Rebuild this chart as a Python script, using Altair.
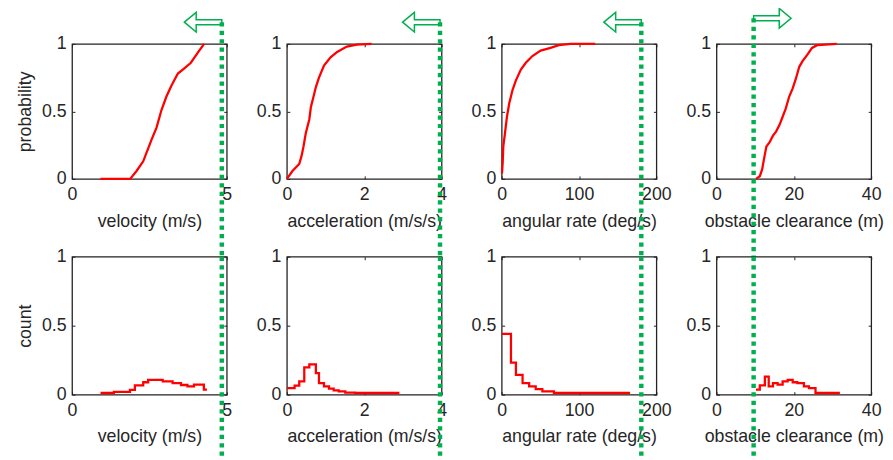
import altair as alt
import pandas as pd

# ---------------- data ----------------
# top row: cumulative probability curves
vel_cdf_x = [0.92, 1.88, 2.09, 2.30, 2.57, 2.73, 2.89, 3.05, 3.21, 3.42, 3.58, 3.84, 4.11, 4.27]
vel_cdf_p = [0, 0, 0.06, 0.13, 0.29, 0.38, 0.51, 0.61, 0.69, 0.78, 0.81, 0.86, 0.95, 1.0]

acc_cdf_x = [0, 0.15, 0.32, 0.38, 0.43, 0.49, 0.58, 0.62, 0.69, 0.75, 0.83, 0.96, 1.13, 1.30, 1.55, 1.81, 2.19]
acc_cdf_p = [0, 0.06, 0.11, 0.17, 0.24, 0.34, 0.44, 0.53, 0.61, 0.68, 0.75, 0.84, 0.90, 0.94, 0.98, 0.995, 1.0]

ang_cdf_x = [0.4, 1.3, 2.1, 4.3, 6.8, 9.8, 14.1, 18.4, 24.8, 31.2, 39.7, 50.4, 63.2, 73.9, 88.9, 120.9]
ang_cdf_p = [0.04, 0.12, 0.24, 0.34, 0.46, 0.56, 0.66, 0.73, 0.81, 0.86, 0.91, 0.95, 0.97, 0.99, 1.0, 1.0]

obs_cdf_x = [10.2, 11.2, 11.8, 12.3, 12.9, 13.7, 14.6, 15.4, 16.3, 17.1, 17.9, 18.8, 19.7, 20.5, 21.4, 22.2, 23.5, 24.7, 26.0, 31.1]
obs_cdf_p = [0, 0.02, 0.07, 0.15, 0.24, 0.27, 0.32, 0.35, 0.40, 0.46, 0.52, 0.61, 0.67, 0.74, 0.83, 0.87, 0.92, 0.97, 0.99, 1.0]

# bottom row: histograms (bin left edges + final right edge, heights)
vel_edges = [0.92, 1.35, 1.87, 2.03, 2.30, 2.46, 2.93, 3.25, 3.52, 3.73, 3.94, 4.26, 4.36]
vel_counts = [0.012, 0.02, 0.035, 0.067, 0.09, 0.108, 0.096, 0.084, 0.07, 0.06, 0.072, 0.036]

acc_edges = [0, 0.2, 0.32, 0.45, 0.58, 0.75, 0.83, 0.96, 1.09, 1.21, 1.34, 1.51, 1.77, 2.91]
acc_counts = [0.048, 0.065, 0.096, 0.197, 0.22, 0.156, 0.084, 0.06, 0.043, 0.031, 0.024, 0.014, 0.012]

ang_edges = [0, 12, 18.4, 27, 35.5, 44, 52.6, 67.5, 166]
ang_counts = [0.44, 0.233, 0.144, 0.084, 0.06, 0.04, 0.024, 0.012]

obs_edges = [10.2, 11.2, 12.5, 13.5, 14.6, 15.8, 17.1, 18.4, 19.7, 20.9, 22.6, 23.9, 25.6, 31.9]
obs_counts = [0.036, 0.067, 0.13, 0.06, 0.084, 0.072, 0.096, 0.108, 0.09, 0.084, 0.06, 0.048, 0.012]

# axis settings / labels
x_max = [5, 4, 200, 40]
x_ticks = [[0, 5], [0, 2, 4], [0, 100, 200], [0, 20, 40]]
x_titles = ["velocity (m/s)", "acceleration (m/s/s)", "angular rate (deg/s)", "obstacle clearance (m)"]
y_ticks = [0, 0.5, 1]
row_titles = ["probability", "count"]
thresholds = [4.84, 3.96, 180.5, 9.6]
arrow_dirs = ["left", "left", "left", "right"]

# ---------------- styling ----------------
W = 157
H_TOP = 137
H_BOT = 140
FONT = "Liberation Sans"
TXT = "#262626"
RED = "#ff0000"
GREEN = "#00b050"

LEFT_ARROW = "M-3.8,0 L-2.6,-1 L-2.6,-0.25 L0,-0.25 L0,0.25 L-2.6,0.25 L-2.6,1 Z"
RIGHT_ARROW = "M3.8,0 L2.6,-1 L2.6,-0.25 L0,-0.25 L0,0.25 L2.6,0.25 L2.6,1 Z"


def label_axes(ticks, title, ytitle):
    xa = alt.Axis(values=ticks, format="~r", orient="bottom", offset=-3, tickSize=3,
                  tickColor="#222", domain=False, grid=False, labelPadding=7,
                  labelFlush=False, labelOverlap=False, labelBound=False,
                  labelFont=FONT, labelFontSize=18, labelColor=TXT,
                  title=title, titleFont=FONT, titleFontSize=18, titleFontWeight="normal",
                  titleColor=TXT, titlePadding=9)
    common = dict(values=y_ticks, format="~r", orient="left", offset=-3, tickSize=3,
                  tickColor="#222", domain=False, grid=False, labelPadding=6,
                  labelFlush=False, labelOverlap=False,
                  labelFont=FONT, labelFontSize=18, labelColor=TXT)
    if ytitle:
        ya = alt.Axis(title=ytitle, titleFont=FONT, titleFontSize=18, titleFontWeight="normal",
                      titleColor=TXT, titlePadding=7, **common)
    else:
        ya = alt.Axis(title=None, **common)
    return xa, ya


def tick_axes(ticks):
    xa = alt.Axis(values=ticks, orient="top", offset=-3, tickSize=3, tickColor="#222",
                  domain=False, grid=False, labels=False, title=None)
    ya = alt.Axis(values=y_ticks, orient="right", offset=-3, tickSize=3, tickColor="#222",
                  domain=False, grid=False, labels=False, title=None)
    return xa, ya


def panel(i, xs, ys, interp, top_row):
    h = H_TOP if top_row else H_BOT
    xs_scale = alt.Scale(domain=[0, x_max[i]], nice=False, zero=False)
    ys_scale = alt.Scale(domain=[0, 1], nice=False, zero=False)
    ytitle = row_titles[0 if top_row else 1] if i == 0 else None
    xa, ya = label_axes(x_ticks[i], x_titles[i], ytitle)
    txa, tya = tick_axes(x_ticks[i])

    df = pd.DataFrame({"x": xs, "y": ys})
    line = alt.Chart(df).mark_line(color=RED, strokeWidth=2.3, interpolate=interp, clip=False).encode(
        x=alt.X("x:Q", scale=xs_scale, axis=xa),
        y=alt.Y("y:Q", scale=ys_scale, axis=ya),
    )

    # dotted threshold line (spans beyond the plot box, like the reference)
    if top_row:
        arrow_px = 26 if arrow_dirs[i] == "right" else 22
        y_top = 1 + arrow_px / h
        y_bot = -80 / h
    else:
        y_top = 1.0
        y_bot = -66 / h
    rdf = pd.DataFrame({"x": [thresholds[i]], "y": [y_top], "y2": [y_bot]})
    rule = alt.Chart(rdf).mark_rule(color=GREEN, strokeWidth=4.5, strokeDash=[4.3, 4.3], clip=False).encode(
        x=alt.X("x:Q", scale=xs_scale, axis=txa),
        y=alt.Y("y:Q", scale=ys_scale, axis=tya),
        y2="y2:Q",
    )
    layers = [line, rule]
    if top_row:
        adf = pd.DataFrame({"x": [thresholds[i]], "y": [y_top]})
        shape = RIGHT_ARROW if arrow_dirs[i] == "right" else LEFT_ARROW
        arrow = alt.Chart(adf).mark_point(shape=shape, size=400, filled=False, stroke=GREEN,
                                          strokeWidth=1.5, opacity=1, clip=False).encode(
            x=alt.X("x:Q", scale=xs_scale, axis=None),
            y=alt.Y("y:Q", scale=ys_scale, axis=None),
        )
        layers.append(arrow)
    return alt.layer(*layers).resolve_axis(x="independent", y="independent").properties(width=W, height=h)


def hist_points(edges, counts):
    return list(edges), list(counts) + [counts[-1]]


panels = [
    panel(0, vel_cdf_x, vel_cdf_p, "linear", True),
    panel(1, acc_cdf_x, acc_cdf_p, "linear", True),
    panel(2, ang_cdf_x, ang_cdf_p, "linear", True),
    panel(3, obs_cdf_x, obs_cdf_p, "linear", True),
]
for i, (e, c) in enumerate([(vel_edges, vel_counts), (acc_edges, acc_counts),
                            (ang_edges, ang_counts), (obs_edges, obs_counts)]):
    hx, hy = hist_points(e, c)
    panels.append(panel(i, hx, hy, "step-after", False))

chart = alt.concat(*panels, columns=4, spacing={"row": 79, "column": 61}, bounds="flush").properties(
    padding={"left": 8, "top": -7, "right": 0, "bottom": 0},
    background="white",
).configure(font=FONT).configure_view(stroke="#222", strokeWidth=1.3)

chart.save("out.html", embed_options={"renderer": "svg", "actions": False})
